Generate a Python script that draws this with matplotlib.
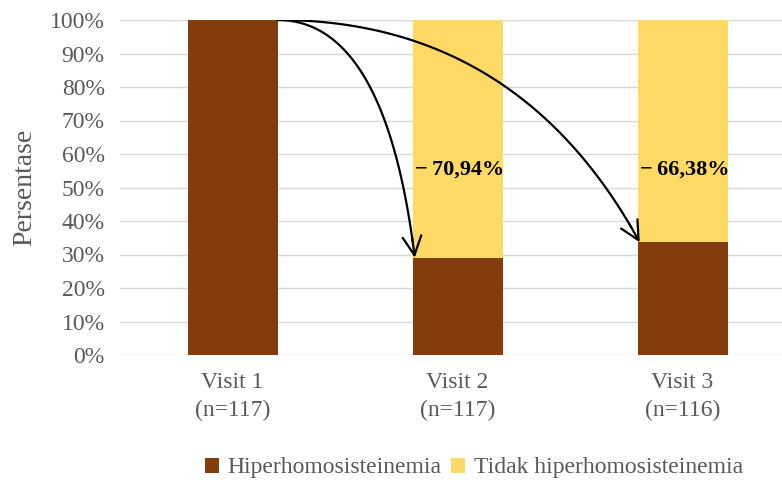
import numpy as np
import matplotlib.pyplot as plt

# Data persentase tiap kunjungan
kunjungan = ["Visit 1\n(n=117)", "Visit 2\n(n=117)", "Visit 3\n(n=116)"]
hiper = [100.0, 29.06, 33.62]
tidak = [0.0, 70.94, 66.38]
penurunan = ["\u2212\u200970,94%", "\u2212\u200966,38%"]

coklat = "#843C0C"
kuning = "#FFD966"
abu = "#595959"

plt.rcParams['font.family'] = ['Liberation Serif', 'DejaVu Serif']

fig = plt.figure(figsize=(7.82, 4.8), dpi=100)
ax = fig.add_axes([120/782, 125/480, 662/782, 335/480])

x = range(len(kunjungan))
lebar = 0.4
ax.bar(x, hiper, lebar, color=coklat, label="Hiperhomosisteinemia", zorder=2)
ax.bar(x, tidak, lebar, bottom=hiper, color=kuning, label="Tidak hiperhomosisteinemia", zorder=2)

ax.set_xlim(-0.5, 2.442)
ax.set_ylim(0, 100)
ax.set_yticks(range(0, 101, 10))
ax.set_yticklabels([f"{v}%" for v in range(0, 101, 10)])
ax.set_xticks(list(x))
ax.set_xticklabels(kunjungan, linespacing=1.45)
ax.tick_params(axis='both', length=0, labelsize=17, colors=abu)
ax.tick_params(axis='y', pad=11)
ax.tick_params(axis='x', pad=12)
ax.yaxis.grid(True, color="#D9D9D9", linewidth=1, zorder=0)
for s in ax.spines.values():
    s.set_visible(False)

ax.set_ylabel("Persentase", fontsize=20, color=abu, labelpad=9)


def kurva(p0, p1, p2, n=120):
    # kurva bezier kuadrat untuk panah melengkung
    t = np.linspace(0, 1, n)[:, None]
    return (1 - t) ** 2 * np.array(p0) + 2 * t * (1 - t) * np.array(p1) + t ** 2 * np.array(p2)


# Panah penurunan dari puncak Visit 1 ke Visit 2 dan 3
awal = (0.2, hiper[0])
kontrol_x = [0.68, 1.27]
for i, teks, kx in zip([1, 2], penurunan, kontrol_x):
    akhir = (i - 0.19, hiper[i])
    pts = kurva(awal, (kx, hiper[0]), akhir)
    ax.plot(pts[:-4, 0], pts[:-4, 1], color="black", linewidth=1.6,
            solid_capstyle='round', zorder=3)
    ax.annotate("", xy=akhir, xytext=tuple(pts[-6]),
                arrowprops=dict(arrowstyle="->,head_length=0.9,head_width=0.45",
                                color="black", linewidth=1.6,
                                shrinkA=0, shrinkB=0, mutation_scale=15),
                zorder=3)
    ax.text(i - 0.19, 55.3, teks, fontsize=16, fontweight='bold',
            color="black", va='center', ha='left', zorder=4)

fig.legend(loc='center', bbox_to_anchor=(474/782, 1 - 468/480), ncol=2, frameon=False,
           fontsize=17, handlelength=0.6, handleheight=0.6, handletextpad=0.35,
           columnspacing=0.4, labelcolor=abu)

fig.savefig("out.png", dpi=100)
